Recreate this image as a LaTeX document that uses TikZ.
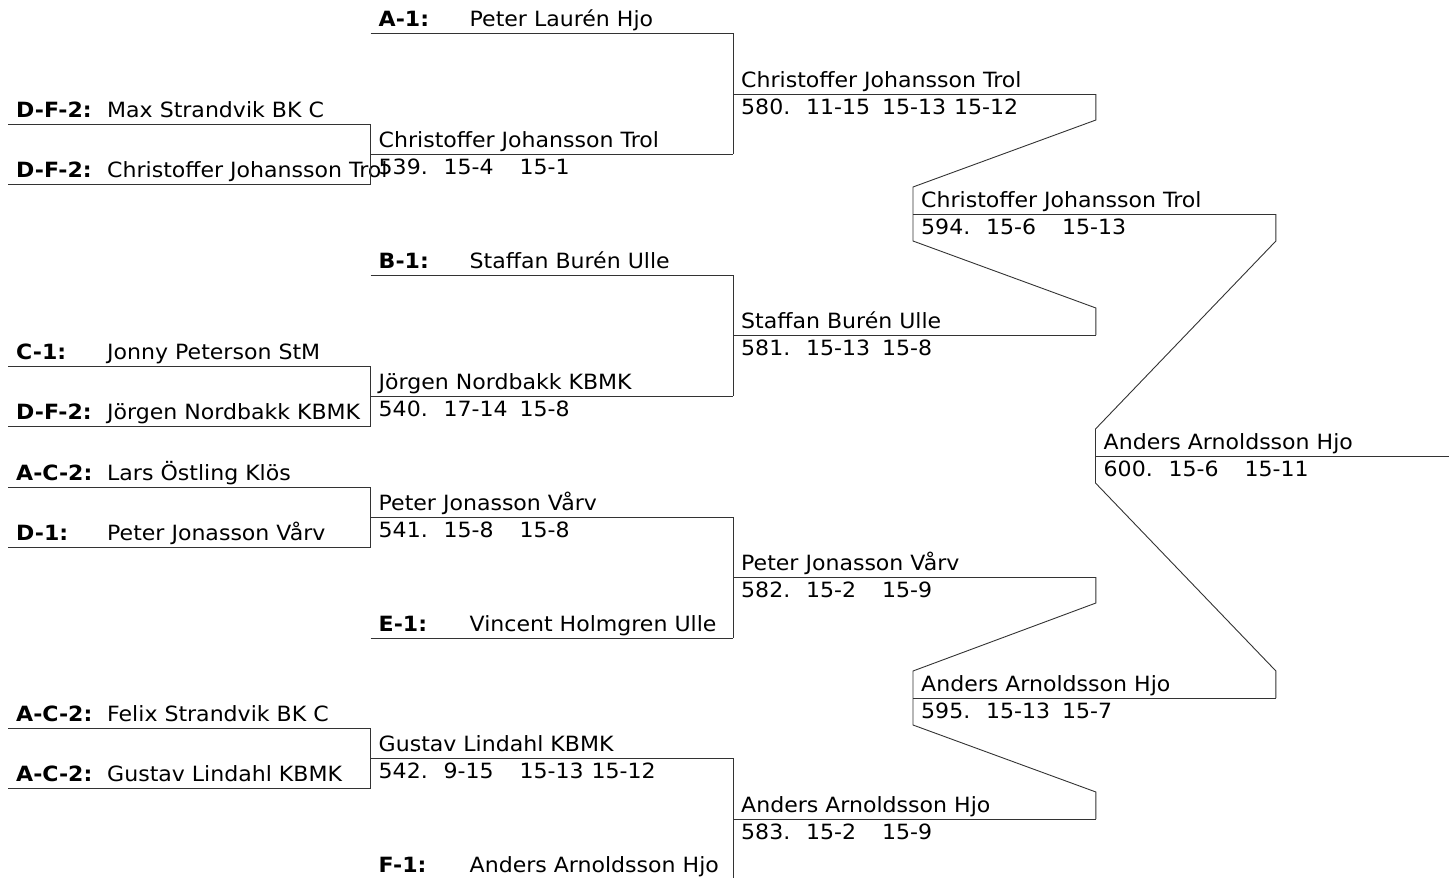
\documentclass[tikz,border=0pt]{standalone}
\usepackage{fontspec}
\setmainfont{DejaVu Sans}[FakeStretch=1.05]
\usepackage{tikz}
\usetikzlibrary{positioning}
\newcommand{\seeded}[2]{\mbox{\makebox[91pt][l]{\bfseries #1}#2}}
\newcommand{\sets}[4]{\makebox[65pt][l]{#1}\makebox[76pt][l]{#2}\makebox[72pt][l]{#3}#4}

\begin{document}
\begin{tikzpicture}[
  x=1pt, y=-1pt,
  font=\fontsize{21}{25}\selectfont,
  entry/.style={anchor=south west, inner xsep=8pt, inner ysep=6pt,
                text width=346.5pt, align=left, text depth=0pt},
  score/.style={anchor=north west, inner xsep=8pt, inner ysep=0pt,
                text height=20.5pt, text depth=0pt},
  rule/.style={draw=black!80, line width=0.9pt}
]
  \useasboundingbox (0,0) rectangle (1449,878);

  % first round
  \node[entry] (max)  at (8,124) {\seeded{D-F-2:}{Max Strandvik BK C}};
  \node[entry] (chr)  at (8,184) {\seeded{D-F-2:}{Christoffer Johansson Trol}};
  \node[entry] (jon)  at (8,366) {\seeded{C-1:}{Jonny Peterson StM}};
  \node[entry] (jor)  at (8,426) {\seeded{D-F-2:}{Jörgen Nordbakk KBMK}};
  \node[entry] (lar)  at (8,487) {\seeded{A-C-2:}{Lars Östling Klös}};
  \node[entry] (pet)  at (8,547) {\seeded{D-1:}{Peter Jonasson Vårv}};
  \node[entry] (fel)  at (8,728) {\seeded{A-C-2:}{Felix Strandvik BK C}};
  \node[entry] (gus)  at (8,788) {\seeded{A-C-2:}{Gustav Lindahl KBMK}};

  % second round
  \node[entry] (plh)  at (370.5,33)  {\seeded{A-1:}{Peter Laurén Hjo}};
  \node[entry] (m539) at (370.5,154) {Christoffer Johansson Trol};
  \node[entry] (sbu)  at (370.5,275) {\seeded{B-1:}{Staffan Burén Ulle}};
  \node[entry] (m540) at (370.5,396) {Jörgen Nordbakk KBMK};
  \node[entry] (m541) at (370.5,517) {Peter Jonasson Vårv};
  \node[entry] (vho)  at (370.5,638) {\seeded{E-1:}{Vincent Holmgren Ulle}};
  \node[entry] (m542) at (370.5,758) {Gustav Lindahl KBMK};
  \node[entry] (aah)  at (370.5,879) {\seeded{F-1:}{Anders Arnoldsson Hjo}};
  \node[score] (r539) at (m539.south west) {\sets{539.}{15-4}{15-1}{}};
  \node[score] (r540) at (m540.south west) {\sets{540.}{17-14}{15-8}{}};
  \node[score] (r541) at (m541.south west) {\sets{541.}{15-8}{15-8}{}};
  \node[score] (r542) at (m542.south west) {\sets{542.}{9-15}{15-13}{15-12}};

  % quarter and semi finals
  \node[entry] (m580) at (733,94)  {Christoffer Johansson Trol};
  \node[entry] (m581) at (733,335) {Staffan Burén Ulle};
  \node[entry] (m582) at (733,577) {Peter Jonasson Vårv};
  \node[entry] (m583) at (733,819) {Anders Arnoldsson Hjo};
  \node[score] (r580) at (m580.south west) {\sets{580.}{11-15}{15-13}{15-12}};
  \node[score] (r581) at (m581.south west) {\sets{581.}{15-13}{15-8}{}};
  \node[score] (r582) at (m582.south west) {\sets{582.}{15-2}{15-9}{}};
  \node[score] (r583) at (m583.south west) {\sets{583.}{15-2}{15-9}{}};

  \node[entry] (m594) at (913,214) {Christoffer Johansson Trol};
  \node[entry] (m595) at (913,698) {Anders Arnoldsson Hjo};
  \node[score] (r594) at (m594.south west) {\sets{594.}{15-6}{15-13}{}};
  \node[score] (r595) at (m595.south west) {\sets{595.}{15-13}{15-7}{}};

  % final
  \node[entry] (m600) at (1095.5,456) {Anders Arnoldsson Hjo};
  \node[score] (r600) at (m600.south west) {\sets{600.}{15-6}{15-11}{}};

  \foreach \n in {max,chr,jon,jor,lar,pet,fel,gus,plh,m539,sbu,m540,m541,vho,
                  m542,aah,m580,m581,m582,m583,m594,m595,m600}
    \draw[rule] (\n.south west) -- (\n.south east);

  \draw[rule] (max.south east) -- (chr.south east);
  \draw[rule] (jon.south east) -- (jor.south east);
  \draw[rule] (lar.south east) -- (pet.south east);
  \draw[rule] (fel.south east) -- (gus.south east);
  \draw[rule] (plh.south east) -- (m539.south east);
  \draw[rule] (sbu.south east) -- (m540.south east);
  \draw[rule] (m541.south east) -- (vho.south east);
  \draw[rule] (m542.south east) -- (aah.south east);

  \draw[rule] (m580.south east) -- ++(0,26) -- ([yshift=27pt]m594.south west)
    -- ([yshift=-27pt]m594.south west) -- ([yshift=27pt]m581.south east) -- (m581.south east);
  \draw[rule] (m582.south east) -- ++(0,26) -- ([yshift=27pt]m595.south west)
    -- ([yshift=-27pt]m595.south west) -- ([yshift=27pt]m583.south east) -- (m583.south east);
  \draw[rule] (m594.south east) -- ++(0,27) -- ([yshift=27pt]m600.south west)
    -- ([yshift=-27pt]m600.south west) -- ([yshift=27pt]m595.south east) -- (m595.south east);
\end{tikzpicture}
\end{document}
